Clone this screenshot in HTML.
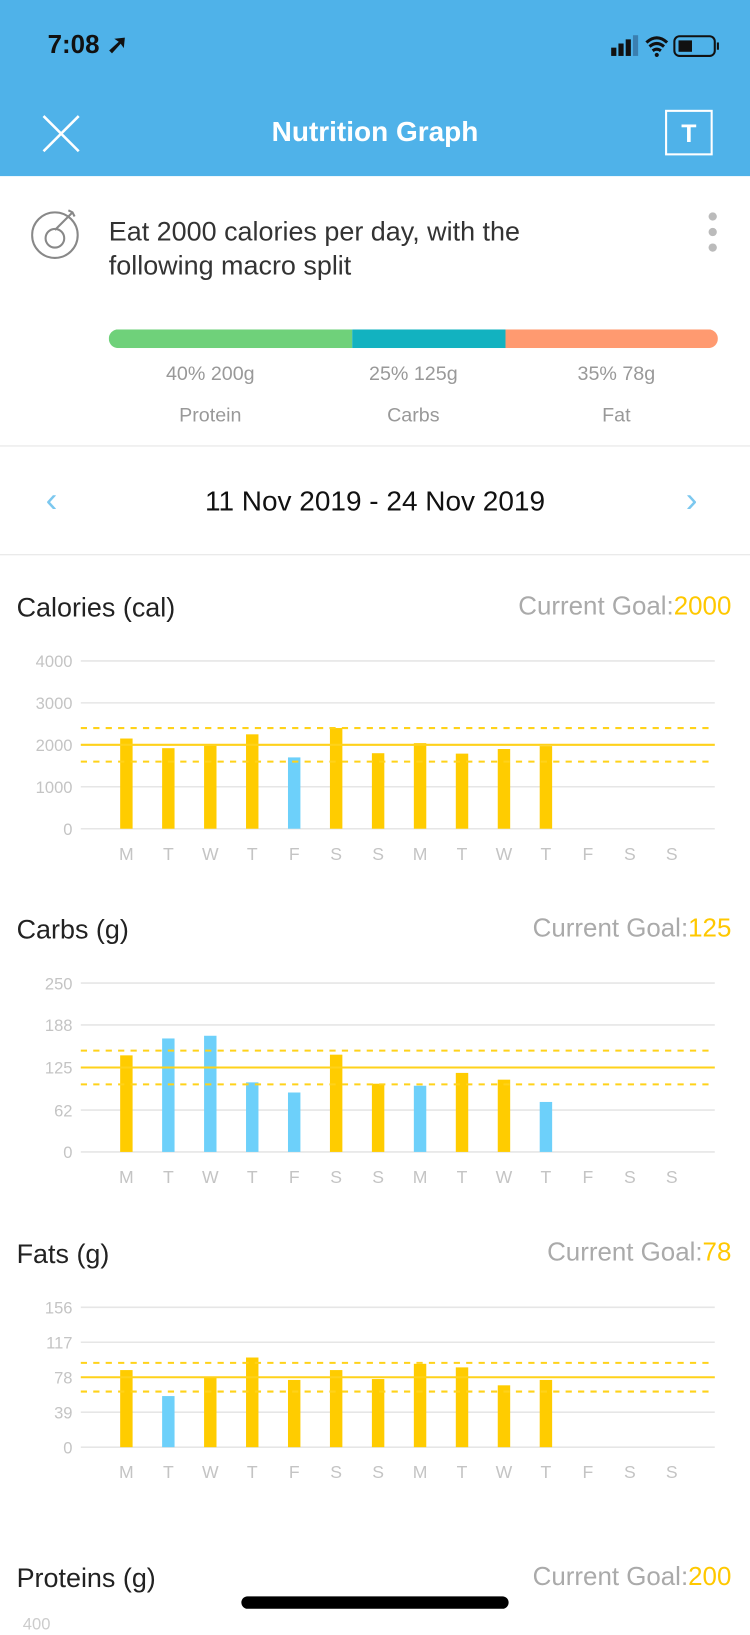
<!DOCTYPE html>
<html><head><meta charset="utf-8">
<style>
html,body{margin:0;padding:0;width:750px;height:1624px;overflow:hidden;background:#fff;font-family:"Liberation Sans",sans-serif;}
#wrap{position:absolute;left:0;top:0;width:724px;height:1568px;transform:scale(1.03591);transform-origin:0 0;}
.abs{position:absolute;}
.hdr{left:0;top:0;width:724px;height:170px;background:#4fb2e9;}
.title{font-size:26px;color:#222;}
.goal{font-size:25px;color:#aaa;right:18px;}
.goal span{color:#ffc800;}
</style></head><body>
<div id="wrap">
<div class="abs hdr"></div>
<div class="abs" style="left:46px;top:28px;font-size:25px;font-weight:bold;color:#111">7:08 ➚</div>
<svg class="abs" style="left:560px;top:32px" width="140" height="26">
<rect x="30" y="14" width="5" height="8" fill="#111"/><rect x="37" y="10" width="5" height="12" fill="#111"/><rect x="44" y="6" width="5" height="16" fill="#111"/><rect x="51" y="2" width="5" height="20" fill="#3a7fb0"/>
<path d="M64 9 Q74 0 84 9 M67 13 Q74 7 81 13 M70 17 Q74 14 78 17" stroke="#111" stroke-width="3" fill="none"/><circle cx="74" cy="21" r="2" fill="#111"/>
<rect x="91" y="3" width="39" height="19" rx="5" fill="none" stroke="#111" stroke-width="2"/><rect x="95" y="7" width="13" height="11" fill="#111"/><rect x="132" y="9" width="2" height="7" fill="#111"/>
</svg>
<svg class="abs" style="left:40px;top:110px" width="38" height="38"><path d="M2 2L36 36M36 2L2 36" stroke="#fff" stroke-width="2.5"/></svg>
<div class="abs" style="left:0;width:724px;top:112px;text-align:center;font-size:27px;font-weight:bold;color:#fff">Nutrition Graph</div>
<div class="abs" style="left:642px;top:106px;width:46px;height:44px;border:2px solid #fff;box-sizing:border-box;color:#fff;font-weight:bold;font-size:24px;text-align:center;line-height:44px">T</div>
<svg class="abs" style="left:30px;top:200px" width="50" height="50"><circle cx="23" cy="27" r="22" fill="none" stroke="#888" stroke-width="2"/><circle cx="23" cy="30" r="9" fill="none" stroke="#888" stroke-width="2"/><path d="M23 22L40 5M36 3L40 5L42 9" stroke="#888" stroke-width="2" fill="none"/></svg>
<div class="abs" style="left:105px;top:207px;font-size:26px;line-height:33px;color:#333">Eat 2000 calories per day, with the<br>following macro split</div>
<svg class="abs" style="left:680px;top:204px" width="16" height="40"><circle cx="8" cy="5" r="4" fill="#bbb"/><circle cx="8" cy="20" r="4" fill="#bbb"/><circle cx="8" cy="35" r="4" fill="#bbb"/></svg>
<div class="abs" style="left:105px;top:318px;width:588px;height:18px;border-radius:9px;overflow:hidden;display:flex"><div style="width:235px;background:#6fd17a"></div><div style="width:148px;background:#12b2c0"></div><div style="flex:1;background:#ff9a70"></div></div>
<div class="abs" style="left:105px;top:342px;width:588px;display:flex;font-size:19px;color:#999;text-align:center;line-height:40px">
<div style="flex:1">40% 200g<br>Protein</div><div style="flex:1">25% 125g<br>Carbs</div><div style="flex:1">35% 78g<br>Fat</div></div>
<div class="abs" style="left:0;top:430px;width:724px;height:1px;background:#e4e4e4"></div>
<div class="abs" style="left:44px;top:464px;font-size:34px;color:#7cc8ef">‹</div>
<div class="abs" style="left:0;width:724px;top:469px;text-align:center;font-size:27px;color:#111">11 Nov 2019 - 24 Nov 2019</div>
<div class="abs" style="left:662px;top:464px;font-size:34px;color:#7cc8ef">›</div>
<div class="abs" style="left:0;top:535px;width:724px;height:1px;background:#e4e4e4"></div>
<div id="charts"></div>
<div class="abs title" style="left:16px;top:1508px">Proteins (g)</div>
<div class="abs goal" style="top:1508px">Current Goal:<span>200</span></div>
<div class="abs" style="left:22px;top:1560px;font-size:16px;color:#ccc">400</div>
<div class="abs" style="left:233px;top:1541px;width:258px;height:12px;border-radius:6px;background:#000"></div>
</div>
<script>
const days=["M","T","W","T","F","S","S","M","T","W","T","F","S","S"];
const calTicks=[0,1000,2000,3000,4000];
const calValues=[2150,1920,1980,2250,1700,2400,1800,2040,1790,1900,1970];
const calBlue=[0,0,0,0,1,0,0,0,0,0,0];
const carbTicks=[0,62,125,188,250];
const carbValues=[143,168,172,103,88,144,101,98,117,107,74];
const carbBlue=[0,1,1,1,1,0,0,1,0,0,1];
const fatTicks=[0,39,78,117,156];
const fatValues=[86,57,78,100,75,86,76,93,89,69,75];
const fatBlue=[0,1,0,0,0,0,0,0,0,0,0];
const charts=[
 {name:"calories",title:"Calories (cal)",goal:2000,lo:1600,hi:2400,ticks:calTicks,vals:calValues,blue:calBlue,top:571,h:162},
 {name:"carbs",title:"Carbs (g)",goal:125,lo:100,hi:150,ticks:carbTicks,vals:carbValues,blue:carbBlue,top:882,h:163},
 {name:"fats",title:"Fats (g)",goal:78,lo:62,hi:94,ticks:fatTicks,vals:fatValues,blue:fatBlue,top:1195,h:135}
];
const NS="http://www.w3.org/2000/svg";
const root=document.getElementById('charts');
charts.forEach(c=>{
 const t=document.createElement('div');t.className='abs title';t.style.left='16px';t.style.top=c.top+'px';t.textContent=c.title;
 
 
 root.appendChild(t);
 const g=document.createElement('div');g.className='abs goal';g.style.top=c.top+'px';g.innerHTML='Current Goal:<span>'+c.goal+'</span>';
 
 
 root.appendChild(g);
 const svg=document.createElementNS(NS,'svg');
 svg.setAttribute('width','724');svg.setAttribute('height','230');
 svg.style.position='absolute';svg.style.left='0';svg.style.top=(c.top+54)+'px';
 
 
 root.appendChild(svg);
 const y1=13,y0=y1+c.h,x0=78,x1=690;
 const max=c.ticks[c.ticks.length-1];
 const Y=v=>y0-(v/max)*(y0-y1);
 const X=i=>122+i*40.5;
 const mk=(tag,a)=>{const e=document.createElementNS(NS,tag);for(const k in a)e.setAttribute(k,a[k]);svg.appendChild(e);return e;};
 c.ticks.forEach(v=>{
  const l=mk('line',{x1:x0,x2:x1,y1:Y(v),y2:Y(v),stroke:'#e6e6e6','stroke-width':1.5});
  
  
  const tx=mk('text',{x:70,y:Y(v)+6,'text-anchor':'end','font-size':16,fill:'#c4c4c4','font-family':'Liberation Sans'});tx.textContent=v;
  
  
 });
 c.vals.forEach((v,i)=>{
  const r=mk('rect',{x:X(i)-6,y:Y(v),width:12,height:y0-Y(v),fill:c.blue[i]?'#6dd0fa':'#ffcc00'});
  
  
 });
 const gl=mk('line',{x1:x0,x2:x1,y1:Y(c.goal),y2:Y(c.goal),stroke:'#ffd21a','stroke-width':2});
 
 
 [c.lo,c.hi].forEach(v=>{
  const d=mk('line',{x1:x0,x2:x1,y1:Y(v),y2:Y(v),stroke:'#ffd21a','stroke-width':2,'stroke-dasharray':'6 6'});
  
  
 });
 days.forEach((d,i)=>{
  const tx=mk('text',{x:X(i),y:y0+30,'text-anchor':'middle','font-size':17,fill:'#c4c4c4','font-family':'Liberation Sans'});tx.textContent=d;
  
  
 });
});
</script>
</body></html>
